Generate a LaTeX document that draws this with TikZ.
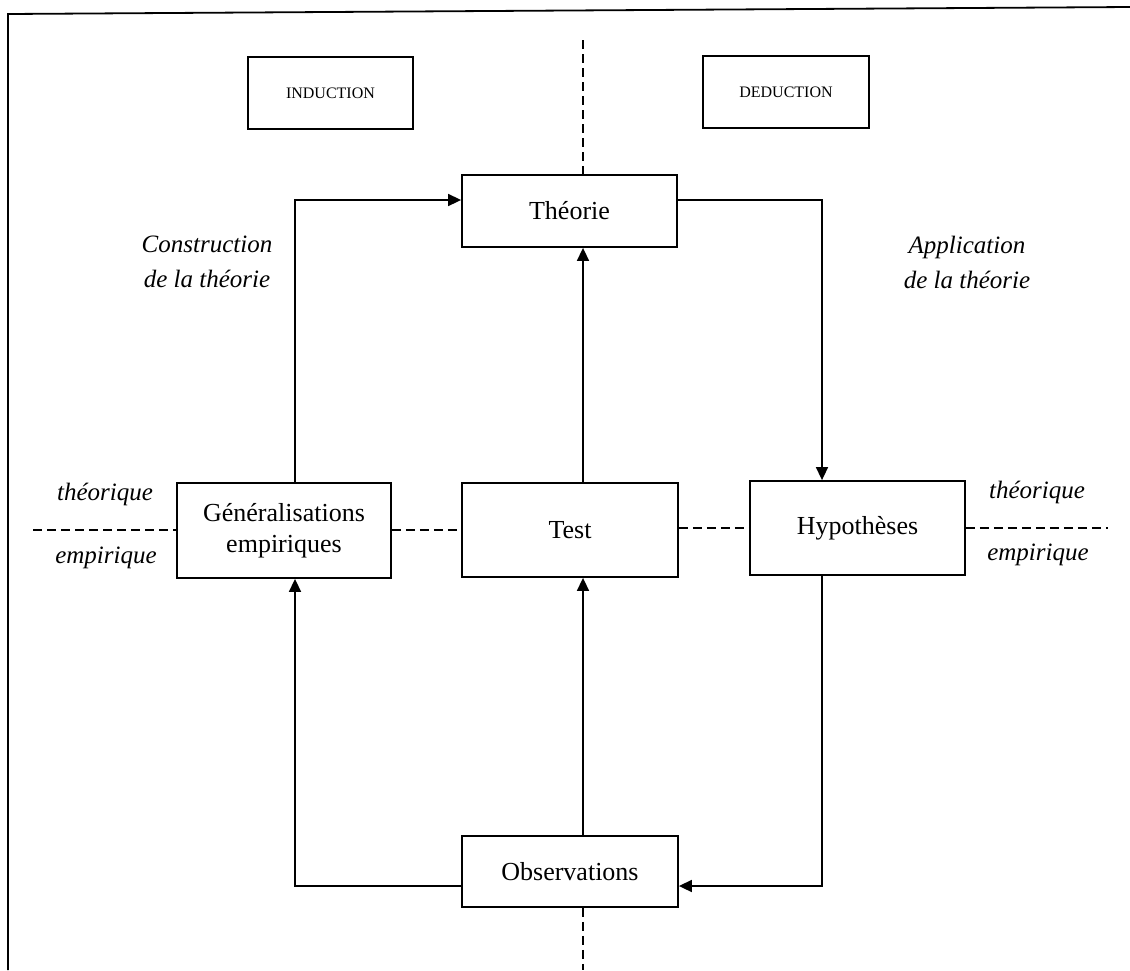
\documentclass[tikz,border=0pt]{standalone}
\usepackage{fontspec}
\setmainfont{Liberation Serif}
\usetikzlibrary{arrows.meta}

\begin{document}
\begin{tikzpicture}[x=1pt,y=-1pt,
  box/.style={draw,line width=1.8pt,inner sep=0pt,align=center,
    font=\fontsize{26}{31}\selectfont},
  headbox/.style={draw,line width=1.8pt,inner sep=0pt,
    font=\fontsize{16}{19}\selectfont},
  lab/.style={inner sep=0pt,align=center,font=\fontsize{25}{35}\selectfont\itshape},
  arr/.style={line width=1.6pt,-{Triangle[length=13pt,width=12pt]}},
  sep/.style={line width=1.5pt,dash pattern=on 9pt off 5pt}]
\useasboundingbox (0,0) rectangle (1130,970);

% frame
\draw[line width=1.8pt] (8,970) -- (8,14) -- (1130,7);

% header boxes
\node[headbox,minimum width=165pt,minimum height=72pt] (ind) at (330.5,93) {INDUCTION};
\node[headbox,minimum width=166pt,minimum height=72pt] (ded) at (786,92) {DEDUCTION};

% main boxes
\node[box,minimum width=215pt,minimum height=72pt] (theo) at (569.5,211) {Théorie};
\node[box,minimum width=214pt,minimum height=95pt] (gen) at (284,530.5) {Généralisations\\empiriques};
\node[box,minimum width=216pt,minimum height=94pt] (test) at (570,530) {Test};
\node[box,minimum width=215pt,minimum height=94pt] (hyp) at (857.5,528) {Hypothèses};
\node[box,minimum width=216pt,minimum height=71pt] (obs) at (570,871.5) {Observations};

% side labels
\node[lab] (cons) at (207,262) {Construction\\de la théorie};
\node[lab] (appl) at (967,262) {Application\\de la théorie};
\node[lab] (thl) at (105,494) {théorique};
\node[lab] (eml) at (106,558) {empirique};
\node[lab] (thr) at (1037,492) {théorique};
\node[lab] (emr) at (1038,555) {empirique};

% guide coordinates
\coordinate (cx) at (583,0);
\coordinate (lx) at (295,0);
\coordinate (rx) at (822,0);
\coordinate (ty) at (0,200);
\coordinate (by) at (0,886);
\coordinate (vtop) at (583,40);
\coordinate (vbot) at (583,970);
\coordinate (hl) at (33,530);
\coordinate (hr) at (1108,528);

% separating dashed lines
\draw[sep] (vtop) -- (theo.north -| cx);
\draw[sep] (obs.south -| cx) -- (vbot);
\draw[sep] (hl) -- (gen.west |- hl);
\draw[sep] (gen.east |- hl) -- (test.west |- hl);
\draw[sep] (test.east |- hr) -- (hyp.west |- hr);
\draw[sep] (hyp.east |- hr) -- (hr);

% cycle arrows
\draw[arr] (gen.north -| lx) |- (theo.west |- ty);
\draw[arr] (theo.east |- ty) -| (hyp.north -| rx);
\draw[arr] (test.north -| cx) -- (theo.south -| cx);
\draw[arr] (obs.north -| cx) -- (test.south -| cx);
\draw[arr] (obs.west |- by) -| (gen.south -| lx);
\draw[arr] (hyp.south -| rx) |- (obs.east |- by);
\end{tikzpicture}
\end{document}
